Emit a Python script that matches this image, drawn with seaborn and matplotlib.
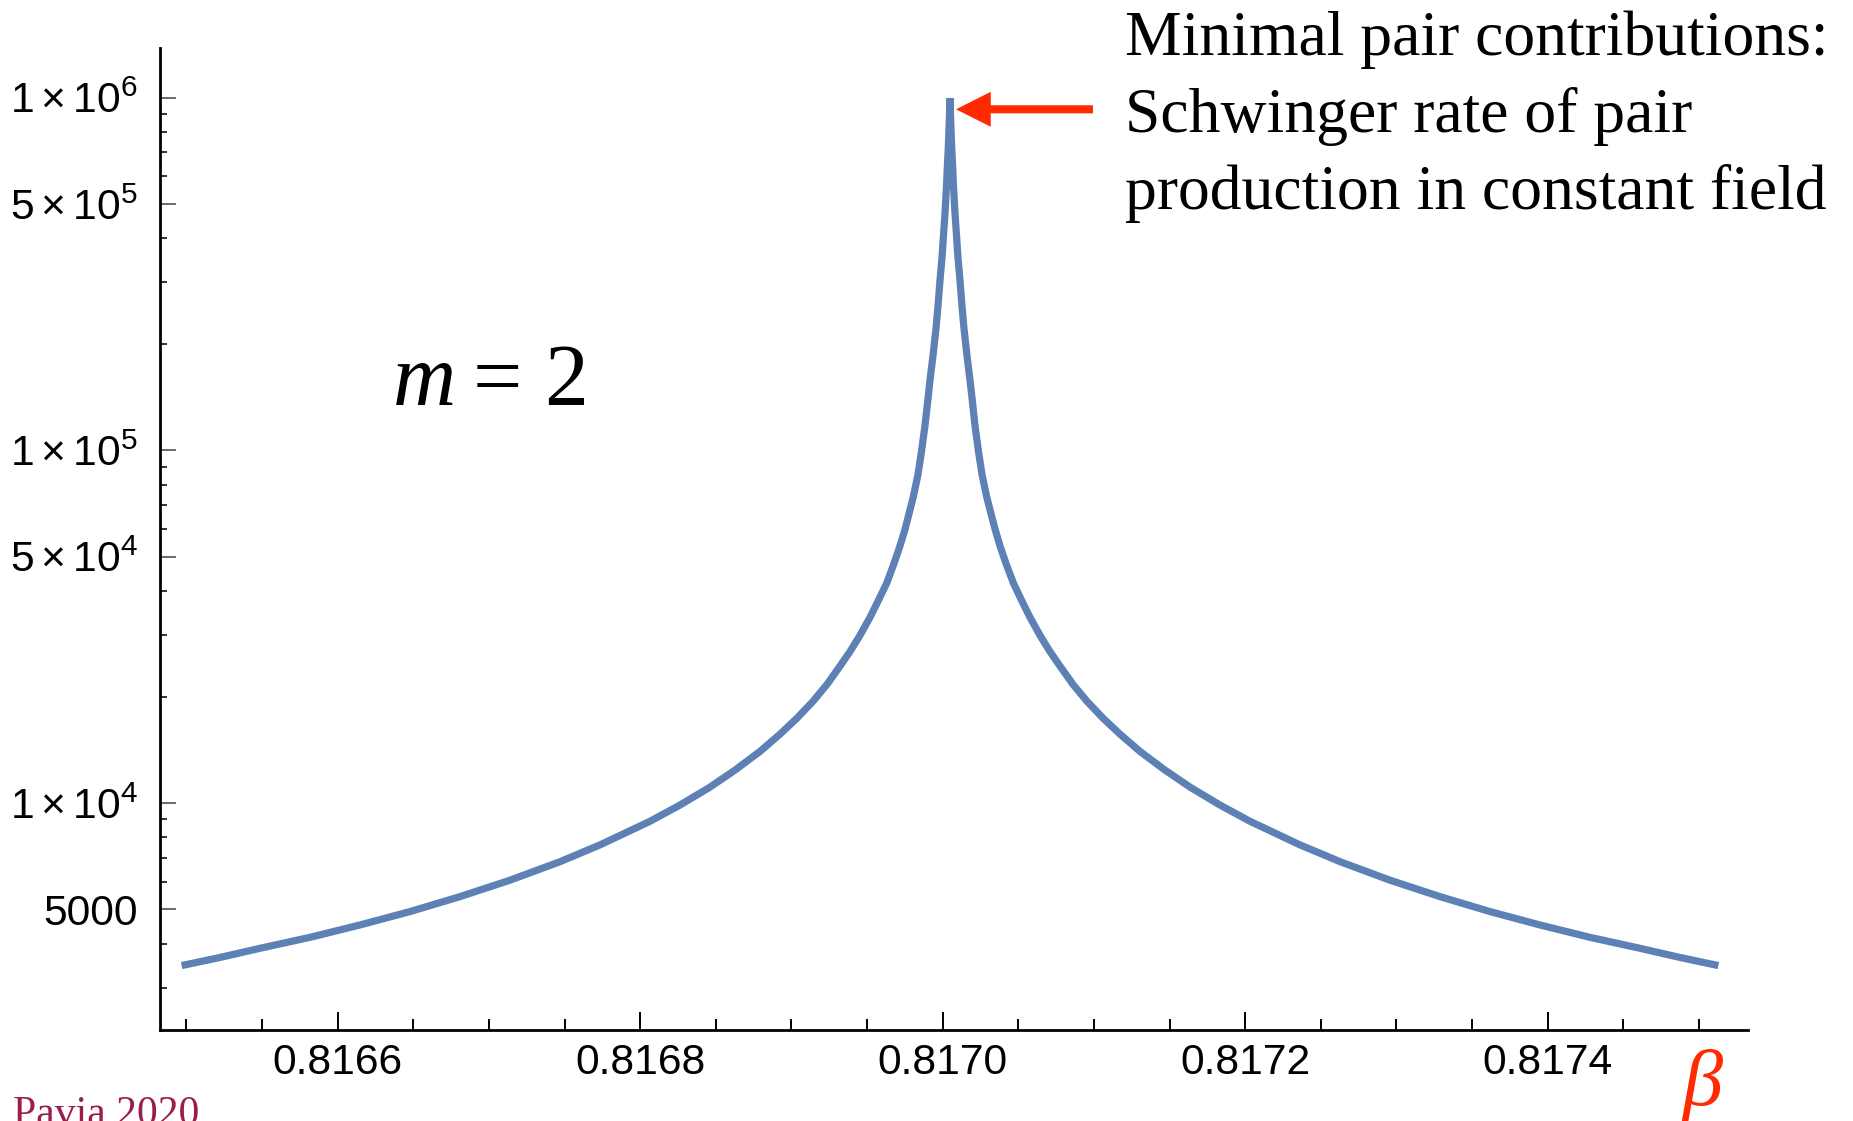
import matplotlib
matplotlib.use("Agg")
import matplotlib.pyplot as plt
import numpy as np
import pandas as pd
import seaborn as sns
from matplotlib.patches import Rectangle
from matplotlib.ticker import FixedLocator, FixedFormatter, LogLocator, NullFormatter

# Pair-production rate versus beta (m = 2), left branch up to the cusp
beta_left = [0.8164968, 0.8165222, 0.8165486, 0.8165817, 0.8166147, 0.8166478,
             0.8166808, 0.8167139, 0.8167470, 0.8167734, 0.8168065, 0.8168263,
             0.8168455, 0.8168627, 0.8168792, 0.8168924, 0.8169036, 0.8169142,
             0.8169235, 0.8169321, 0.8169387, 0.8169453, 0.8169519, 0.8169579,
             0.8169630, 0.8169678, 0.8169717, 0.8169751, 0.8169772, 0.8169805,
             0.8169836, 0.8169861, 0.8169883, 0.8169903, 0.8169916, 0.8169936,
             0.8169955, 0.8169969, 0.8169982, 0.8169995, 0.8170005, 0.8170015,
             0.8170025, 0.8170031, 0.8170037, 0.8170043, 0.8170048]
rate_left = [3467, 3656, 3881, 4169, 4519, 4932,
             5437, 6053, 6831, 7621, 8892, 9886,
             11070, 12420, 14030, 15700, 17420, 19450,
             21730, 24490, 26920, 29920, 33650, 37930,
             42110, 47860, 53580, 59840, 64930, 73790,
             85310, 100300, 118000, 140600, 158500, 186200,
             220800, 257600, 304200, 350800, 407400, 471000,
             562300, 645700, 726200, 851100, 1000000]

# right branch, from the cusp outwards
beta_right = [0.8170053, 0.8170059, 0.8170065, 0.8170071, 0.8170081, 0.8170091,
              0.8170101, 0.8170114, 0.8170127, 0.8170141, 0.8170160, 0.8170180,
              0.8170194, 0.8170213, 0.8170235, 0.8170260, 0.8170291, 0.8170324,
              0.8170346, 0.8170379, 0.8170418, 0.8170467, 0.8170517, 0.8170577,
              0.8170643, 0.8170709, 0.8170775, 0.8170861, 0.8170954, 0.8171060,
              0.8171172, 0.8171304, 0.8171469, 0.8171641, 0.8171833, 0.8172031,
              0.8172362, 0.8172627, 0.8172957, 0.8173288, 0.8173618, 0.8173949,
              0.8174279, 0.8174610, 0.8174874, 0.8175128]
rate_right = [851100, 726200, 645700, 562300, 471000, 407400,
              350800, 304200, 257600, 220800, 186200, 158500,
              140600, 118000, 100300, 85310, 73790, 64930,
              59840, 53580, 47860, 42110, 37930, 33650,
              29920, 26920, 24490, 21730, 19450, 17420,
              15700, 14030, 12420, 11070, 9886, 8892,
              7621, 6831, 6053, 5437, 4932, 4519,
              4169, 3881, 3656, 3467]

x_ticks = [0.8166, 0.8168, 0.8170, 0.8172, 0.8174]
x_tick_labels = ["0.8166", "0.8168", "0.8170", "0.8172", "0.8174"]
x_minor_ticks = [0.81650, 0.81655, 0.81660, 0.81665, 0.81670, 0.81675,
                 0.81680, 0.81685, 0.81690, 0.81695, 0.81700, 0.81705,
                 0.81710, 0.81715, 0.81720, 0.81725, 0.81730, 0.81735,
                 0.81740, 0.81745, 0.81750]
y_ticks = [5e3, 1e4, 5e4, 1e5, 5e5, 1e6]
y_tick_labels = ["5000", r"$1\times10^{4}$", r"$5\times10^{4}$",
                 r"$1\times10^{5}$", r"$5\times10^{5}$", r"$1\times10^{6}$"]

title_lines = ["Minimal pair contributions:",
               "Schwinger rate of pair",
               "production in constant field"]

sns.set_theme(style="ticks")
plt.rcParams.update({
    "font.family": ["Liberation Sans", "DejaVu Sans"],
    "mathtext.fontset": "custom",
    "mathtext.rm": "Liberation Sans",
    "mathtext.it": "Liberation Sans:italic",
    "mathtext.bf": "Liberation Sans:bold",
    "axes.edgecolor": "black",
    "axes.linewidth": 2.0,
})

W, H = 1853, 1121
fig = plt.figure(figsize=(W / 100, H / 100), dpi=100)
ax = fig.add_axes([160 / W, 1 - 1030 / H, (1748 - 160) / W, (1030 - 48) / H])

df = pd.DataFrame({"beta": beta_left + beta_right, "rate": rate_left + rate_right})
sns.lineplot(data=df, x="beta", y="rate", ax=ax, color="#5E81B5",
             linewidth=5.2, estimator=None, sort=False)
ax.set_yscale("log")
ax.set_xlim(0.8164825, 0.8175324)
ax.set_ylim(2277, 1.383e6)

# clip the curve at its plotted maximum (flat top of the cusp)
line = ax.lines[0]
line.set_solid_capstyle("butt")
line.set_solid_joinstyle("round")
x0, x1 = ax.get_xlim()
y0, _ = ax.get_ylim()
peak = max(df["rate"])
clip = Rectangle((x0, y0), x1 - x0, peak - y0, transform=ax.transData)
line.set_clip_path(clip)

ax.set_xlabel("")
ax.set_ylabel("")
for s in ("top", "right"):
    ax.spines[s].set_visible(False)

ax.xaxis.set_major_locator(FixedLocator(x_ticks))
ax.xaxis.set_major_formatter(FixedFormatter(x_tick_labels))
ax.xaxis.set_minor_locator(FixedLocator(x_minor_ticks))
ax.yaxis.set_major_locator(FixedLocator(y_ticks))
ax.yaxis.set_major_formatter(FixedFormatter(y_tick_labels))
ax.yaxis.set_minor_locator(LogLocator(base=10, subs=(2, 3, 4, 6, 7, 8, 9), numticks=100))
ax.yaxis.set_minor_formatter(NullFormatter())

ax.tick_params(axis="x", which="major", direction="in", length=13, width=1.4,
               color="black", pad=9, labelsize=30.7, labelcolor="black")
ax.tick_params(axis="x", which="minor", direction="in", length=7.9, width=1.4,
               color="black")
ax.tick_params(axis="y", which="major", direction="in", length=11.5, width=1.4,
               color="#6b6b6b", pad=16, labelsize=30.7, labelcolor="black")
ax.tick_params(axis="y", which="minor", direction="in", length=5, width=1.4,
               color="#333333")

# annotation arrow pointing at the cusp
peak_beta = beta_left[-1]
ax.annotate("", xy=(peak_beta + 0.000004, peak * 0.927), xycoords="data",
            xytext=(1093, H - 109.3), textcoords="figure pixels",
            arrowprops=dict(arrowstyle="simple,head_length=1.25,head_width=1.26,tail_width=0.29",
                            mutation_scale=20, color="#FF2A00", lw=0,
                            shrinkA=0, shrinkB=0))

serif = ["Liberation Serif", "DejaVu Serif"]
for txt, base in zip(title_lines, [55, 132, 209]):
    fig.text(1125 / W, 1 - base / H, txt, family=serif, fontsize=45.8,
             color="black", ha="left", va="baseline")

fig.text(393 / W, 1 - 405 / H, "m", family=serif, style="italic", fontsize=63,
         color="black", ha="left", va="baseline")
fig.text(497 / W, 1 - 405 / H, "=", family=serif, fontsize=63,
         color="black", ha="center", va="baseline")
fig.text(588 / W, 1 - 405 / H, "2", family=serif, fontsize=63,
         color="black", ha="right", va="baseline")

fig.text(1682 / W, 1 - 1105 / H, "β", family=serif, style="italic", fontsize=58,
         color="#FF2A00", ha="left", va="baseline")

fig.text(13 / W, 1 - 1125 / H, "Pavia 2020", family=serif, fontsize=30,
         color="#9A1D4E", ha="left", va="baseline")

fig.savefig("out.png", dpi=100)
